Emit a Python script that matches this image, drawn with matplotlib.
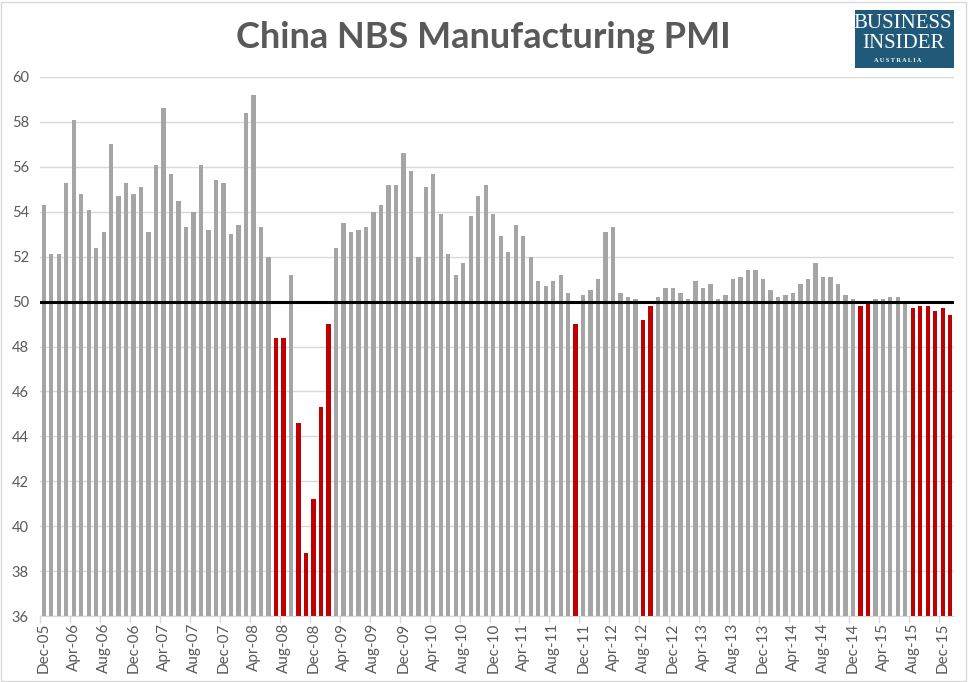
import numpy as np
import matplotlib
matplotlib.use("Agg")
import matplotlib.pyplot as plt
from matplotlib.patches import Rectangle

# Monthly NBS manufacturing PMI, Dec-05 .. Jan-16
start_month = "2005-12"
pmi = [
    54.3,
    52.1, 52.1, 55.3, 58.1, 54.8, 54.1, 52.4, 53.1, 57.0, 54.7, 55.3, 54.8,  # 2006
    55.1, 53.1, 56.1, 58.6, 55.7, 54.5, 53.3, 54.0, 56.1, 53.2, 55.4, 55.3,  # 2007
    53.0, 53.4, 58.4, 59.2, 53.3, 52.0, 48.4, 48.4, 51.2, 44.6, 38.8, 41.2,  # 2008
    45.3, 49.0, 52.4, 53.5, 53.1, 53.2, 53.3, 54.0, 54.3, 55.2, 55.2, 56.6,  # 2009
    55.8, 52.0, 55.1, 55.7, 53.9, 52.1, 51.2, 51.7, 53.8, 54.7, 55.2, 53.9,  # 2010
    52.9, 52.2, 53.4, 52.9, 52.0, 50.9, 50.7, 50.9, 51.2, 50.4, 49.0, 50.3,  # 2011
    50.5, 51.0, 53.1, 53.3, 50.4, 50.2, 50.1, 49.2, 49.8, 50.2, 50.6, 50.6,  # 2012
    50.4, 50.1, 50.9, 50.6, 50.8, 50.1, 50.3, 51.0, 51.1, 51.4, 51.4, 51.0,  # 2013
    50.5, 50.2, 50.3, 50.4, 50.8, 51.0, 51.7, 51.1, 51.1, 50.8, 50.3, 50.1,  # 2014
    49.8, 49.9, 50.1, 50.1, 50.2, 50.2, 50.0, 49.7, 49.8, 49.8, 49.6, 49.7,  # 2015
    49.4,                                                                    # 2016
]
threshold = 50
y_ticks = [36, 38, 40, 42, 44, 46, 48, 50, 52, 54, 56, 58, 60]

months = [f"{m.strftime('%b')}-{m.strftime('%y')}"
          for m in np.arange(np.datetime64(start_month), np.datetime64(start_month) + len(pmi))
          .astype("datetime64[M]").astype(object)]

GREY = "#A5A5A5"
RED = "#C00000"
TEXT = "#595959"
plt.rcParams["font.family"] = ["Lato", "DejaVu Sans"]

fig = plt.figure(figsize=(9.68, 6.82), dpi=100)
W, H = 968, 682

# chart border
fig.patches.append(Rectangle((1 / W, 1 / H), (W - 3) / W, (H - 3) / H, transform=fig.transFigure,
                             fill=False, edgecolor="#D9D9D9", lw=1))

ax = fig.add_axes([40 / W, (H - 616) / H, 914 / W, 539 / H])
x = np.arange(len(pmi))
colors = [RED if v < threshold else GREY for v in pmi]
ax.bar(x, np.array(pmi) - 36, bottom=36, width=0.58, color=colors, zorder=2)
ax.axhline(threshold, color="black", lw=2.2, zorder=3)

ax.set_xlim(-0.5, len(pmi) - 0.5)
ax.set_ylim(36, 60)
ax.set_yticks(y_ticks)
ax.set_yticklabels([str(t) for t in y_ticks], color=TEXT, fontsize=10.5)
ax.yaxis.grid(True, color="#D9D9D9", lw=1, zorder=0)
ax.tick_params(axis="y", length=0, pad=8)

lab_idx = x[::4]
ax.set_xticks(lab_idx)
ax.set_xticklabels([months[i] for i in lab_idx], rotation=90, color=TEXT, fontsize=11)
ax.tick_params(axis="x", length=0, pad=5)
# category boundary ticks
ax.set_xticks(lab_idx - 0.5, minor=True)
ax.tick_params(axis="x", which="minor", length=5, color="#D9D9D9", width=1)

for s in ["top", "right", "left"]:
    ax.spines[s].set_visible(False)
ax.spines["bottom"].set_color("#D9D9D9")
ax.spines["bottom"].set_zorder(4)

fig.text(483 / W, 1 - 38 / H, "China NBS Manufacturing PMI", ha="center", va="center",
         fontsize=26, fontweight="bold", color=TEXT)

# logo
fig.patches.append(Rectangle((855 / W, 1 - 68 / H), 99 / W, 58 / H, transform=fig.transFigure,
                             facecolor="#215A79", edgecolor="none"))
fig.text(903 / W, 1 - 23 / H, "BUSINESS", ha="center", va="center", color="white",
         fontsize=15, family="Liberation Serif")
fig.text(903 / W, 1 - 43 / H, "INSIDER", ha="center", va="center", color="white",
         fontsize=15, family="Liberation Serif")
fig.text(898 / W, 1 - 61 / H, "A U S T R A L I A", ha="center", va="center", color="white",
         fontsize=4.5, family="Liberation Serif", fontweight="bold")

fig.savefig("out.png", dpi=100, facecolor="white")
